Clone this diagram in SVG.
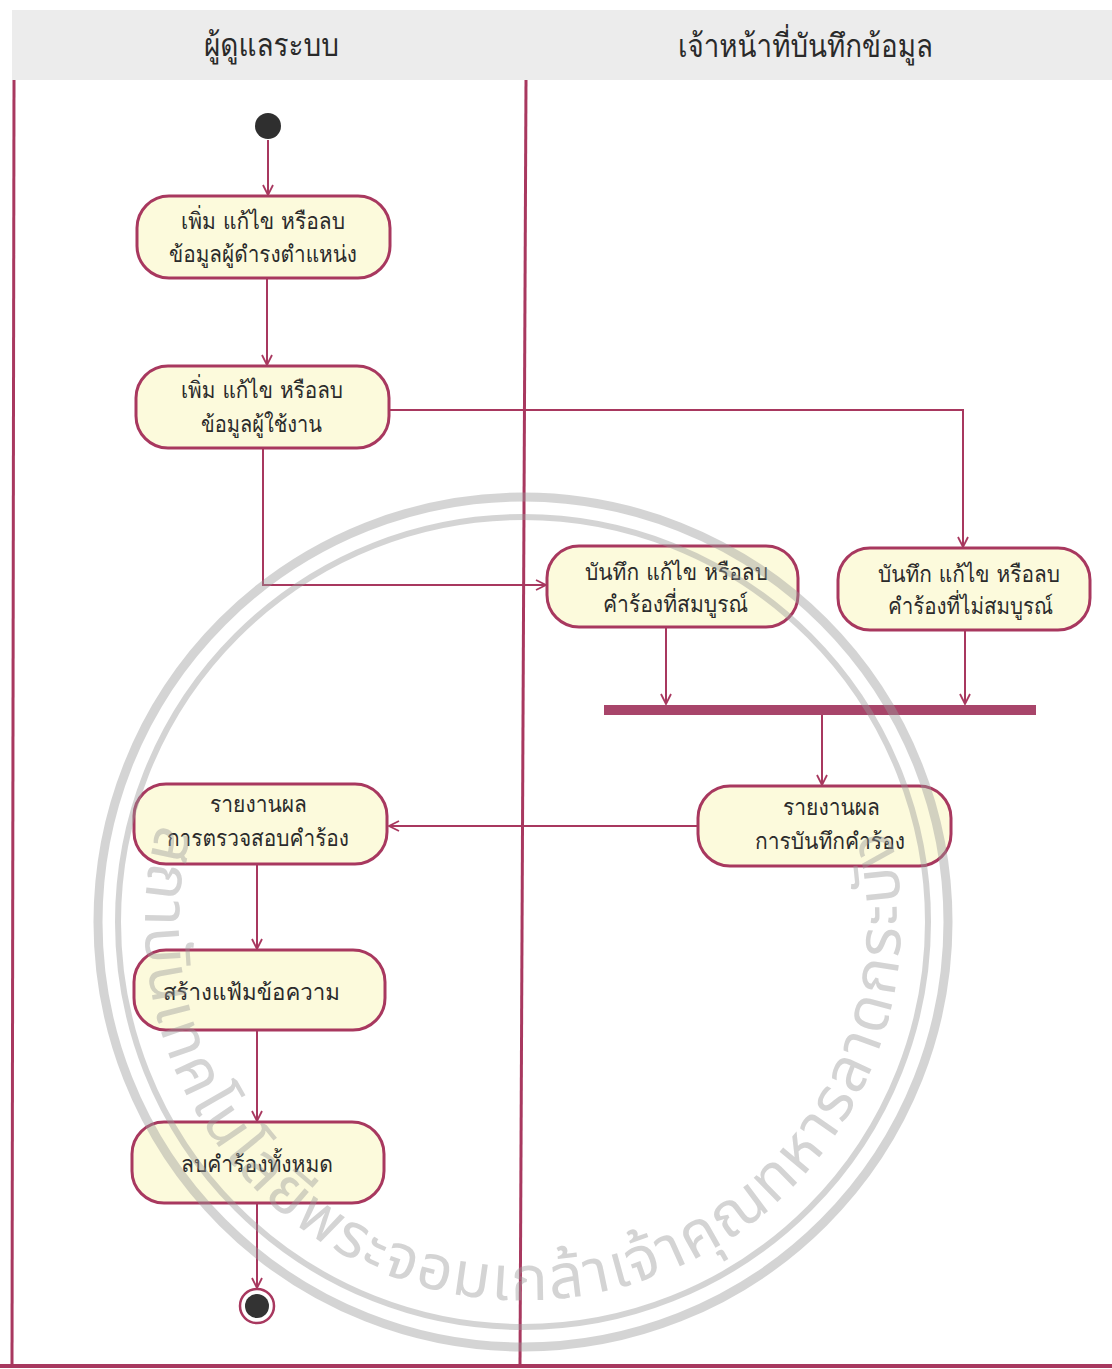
<svg xmlns="http://www.w3.org/2000/svg" width="1112" height="1369" viewBox="0 0 1112 1369">
<defs>
<style>
.lane{stroke:#a8385f;stroke-width:3;fill:none}
.node rect{fill:#fcfadc;stroke:#a8385f;stroke-width:3}
.t{font-family:"Loma","Garuda","Noto Sans Thai Looped","Noto Sans Thai","Noto Sans","DejaVu Sans",sans-serif;font-size:23px;font-weight:500;fill:#2b2b2b;text-anchor:start}
.h{font-family:"Loma","Garuda","Noto Sans Thai Looped","Noto Sans Thai","Noto Sans","DejaVu Sans",sans-serif;font-size:32px;font-weight:500;fill:#2a2a2a}
.conn path{stroke:#a8385f;stroke-width:2;fill:none;marker-end:url(#arr)}
.wm{fill:none;stroke:#9a9a9a}
.wmt{font-family:"Noto Sans Thai","Noto Sans",sans-serif;font-size:62px;fill:#9a9a9a}
</style>
<marker id="arr" viewBox="0 0 12 12" refX="11" refY="6" markerWidth="12" markerHeight="12" markerUnits="userSpaceOnUse" orient="auto">
<path d="M1,1 L11,6 L1,11" fill="none" stroke="#a8385f" stroke-width="1.8"/>
</marker>
<path id="wmArc" d="M158,824 A378,378 0 1,0 888,824"/>
</defs>
<rect width="1112" height="1369" fill="#ffffff"/>
<g id="lanes">
<rect x="12" y="10" width="1100" height="70" fill="#ececec"/>
<text class="h" x="204" y="56" textLength="135" lengthAdjust="spacingAndGlyphs">ผู้ดูแลระบบ</text>
<text class="h" x="678" y="57" textLength="255" lengthAdjust="spacingAndGlyphs">เจ้าหน้าที่บันทึกข้อมูล</text>
<line class="lane" x1="14" y1="80" x2="12" y2="1366"/>
<line class="lane" x1="526" y1="80" x2="520" y2="1366"/>
<line x1="0" y1="1366" x2="1112" y2="1366" stroke="#a8385f" stroke-width="4"/>
</g>
<g class="conn" id="connectors">
<path d="M268,140 V195"/>
<path d="M267,278 V365"/>
<path d="M389,410 H963 V547"/>
<path d="M263,448 V585 H546"/>
<path d="M666,627 V704"/>
<path d="M965,630 V704"/>
<path d="M822,715 V785"/>
<path d="M698,826 H389"/>
<path d="M257,864 V949"/>
<path d="M257,1030 V1121"/>
<path d="M257,1203 V1288"/>
</g>
<g id="start"><circle cx="268" cy="126" r="13" fill="#2f2f2f"/></g>
<g id="end"><circle cx="257" cy="1306" r="17" fill="#ffffff" stroke="#a8385f" stroke-width="2.5"/><circle cx="257" cy="1306" r="12" fill="#333333"/></g>
<g id="fork"><rect x="604" y="705" width="432" height="10" fill="#a8456a"/></g>
<g class="node" id="n1"><rect x="137" y="196" width="253" height="82" rx="32"/>
<text class="t" x="181" y="229" textLength="164" lengthAdjust="spacingAndGlyphs">เพิ่ม แก้ไข หรือลบ</text>
<text class="t" x="169" y="262" textLength="188" lengthAdjust="spacingAndGlyphs">ข้อมูลผู้ดำรงตำแหน่ง</text></g>
<g class="node" id="n2"><rect x="136" y="366" width="253" height="82" rx="32"/>
<text class="t" x="181" y="398" textLength="162" lengthAdjust="spacingAndGlyphs">เพิ่ม แก้ไข หรือลบ</text>
<text class="t" x="201" y="432" textLength="121" lengthAdjust="spacingAndGlyphs">ข้อมูลผู้ใช้งาน</text></g>
<g class="node" id="n3"><rect x="547" y="546" width="251" height="81" rx="32"/>
<text class="t" x="585" y="580" textLength="183" lengthAdjust="spacingAndGlyphs">บันทึก แก้ไข หรือลบ</text>
<text class="t" x="603" y="612" textLength="145" lengthAdjust="spacingAndGlyphs">คำร้องที่สมบูรณ์</text></g>
<g class="node" id="n4"><rect x="838" y="548" width="252" height="82" rx="32"/>
<text class="t" x="878" y="582" textLength="182" lengthAdjust="spacingAndGlyphs">บันทึก แก้ไข หรือลบ</text>
<text class="t" x="888" y="614" textLength="165" lengthAdjust="spacingAndGlyphs">คำร้องที่ไม่สมบูรณ์</text></g>
<g class="node" id="n5"><rect x="698" y="786" width="253" height="80" rx="32"/>
<text class="t" x="783" y="815" textLength="97" lengthAdjust="spacingAndGlyphs">รายงานผล</text>
<text class="t" x="755" y="849" textLength="150" lengthAdjust="spacingAndGlyphs">การบันทึกคำร้อง</text></g>
<g class="node" id="n6"><rect x="134" y="784" width="253" height="80" rx="32"/>
<text class="t" x="210" y="812" textLength="97" lengthAdjust="spacingAndGlyphs">รายงานผล</text>
<text class="t" x="167" y="846" textLength="182" lengthAdjust="spacingAndGlyphs">การตรวจสอบคำร้อง</text></g>
<g class="node" id="n7"><rect x="134" y="950" width="251" height="80" rx="32"/>
<text class="t" x="163" y="1000" textLength="177" lengthAdjust="spacingAndGlyphs">สร้างแฟ้มข้อความ</text></g>
<g class="node" id="n8"><rect x="132" y="1122" width="252" height="81" rx="32"/>
<text class="t" x="181" y="1172" textLength="152" lengthAdjust="spacingAndGlyphs">ลบคำร้องทั้งหมด</text></g>
<g id="watermark" opacity="0.42">
<circle class="wm" cx="523" cy="922" r="425" stroke-width="9"/>
<circle class="wm" cx="523" cy="922" r="405" stroke-width="6"/>
<text class="wmt"><textPath href="#wmArc" textLength="1380" lengthAdjust="spacing">สถาบันเทคโนโลยีพระจอมเกล้าเจ้าคุณทหารลาดกระบัง</textPath></text>
</g>
</svg>
